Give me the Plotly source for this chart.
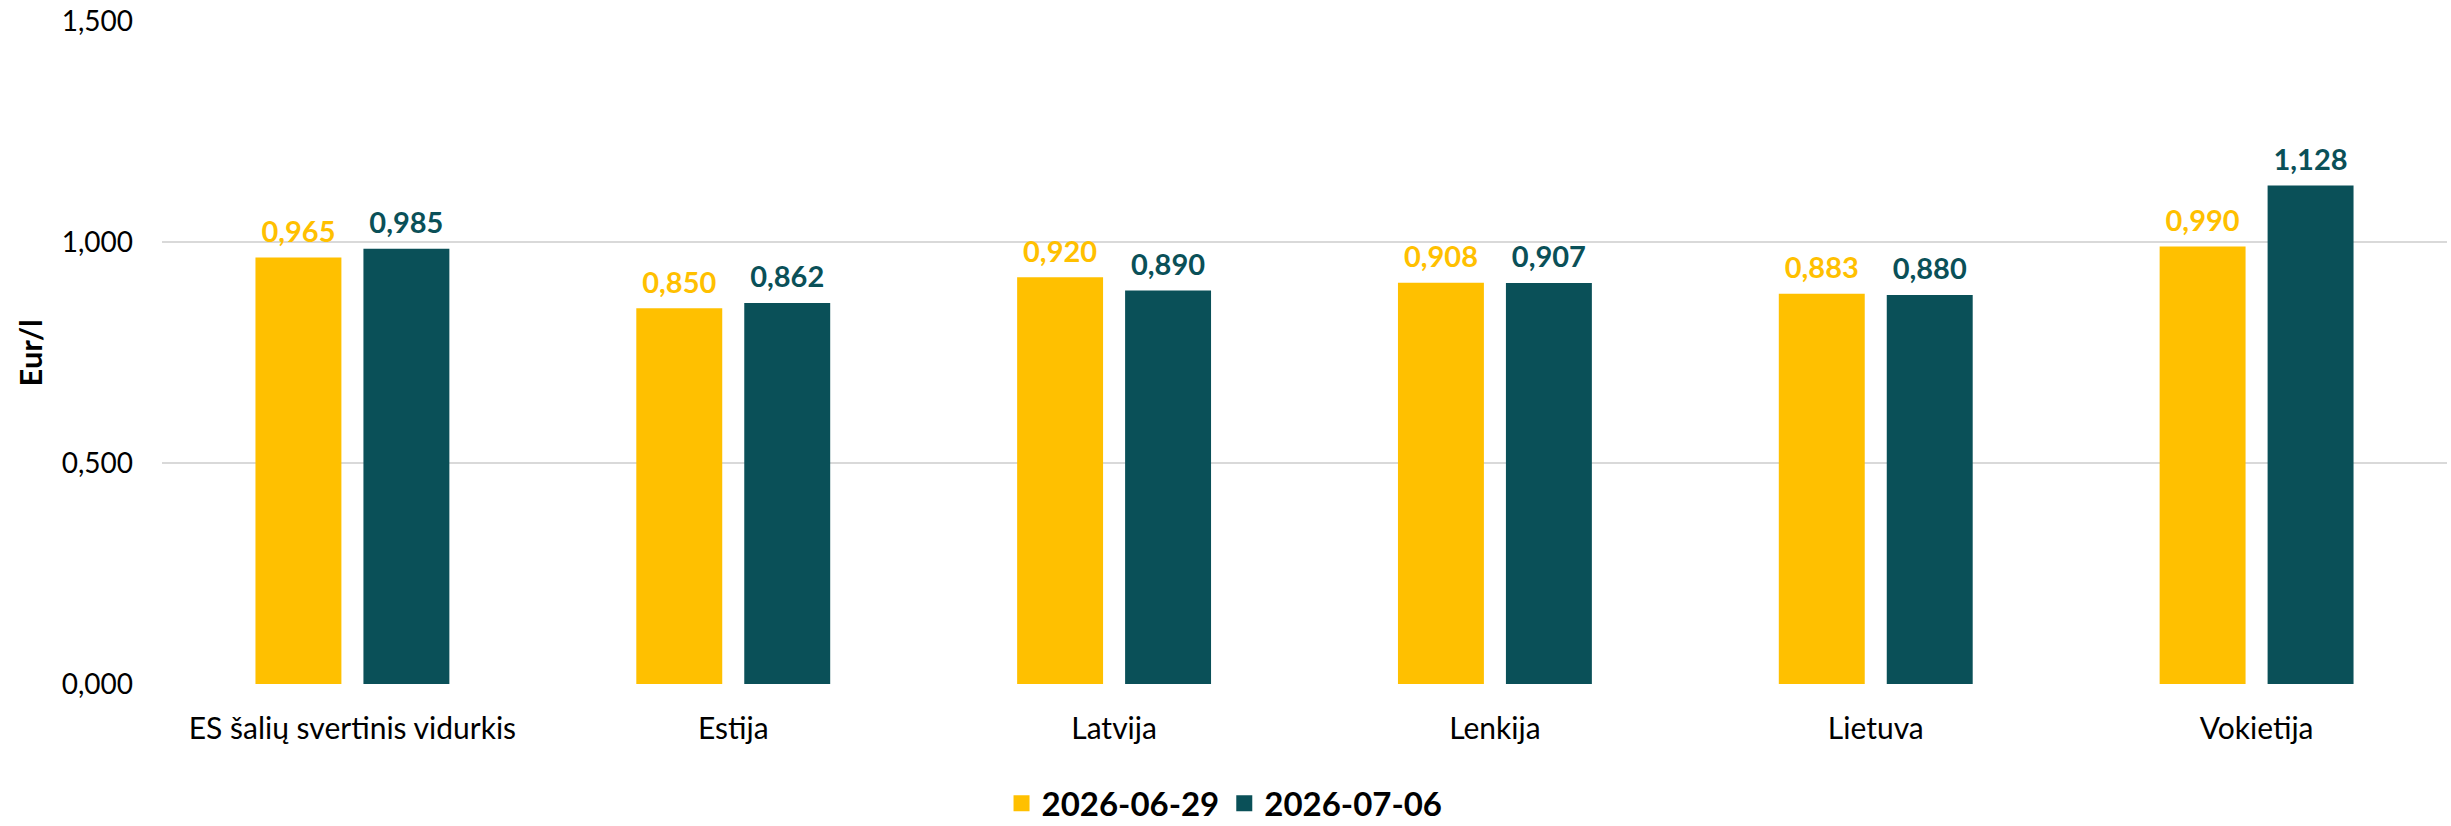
import plotly.graph_objects as go

categories = ["ES šalių svertinis vidurkis", "Estija", "Latvija", "Lenkija", "Lietuva", "Vokietija"]
series_names = ["2026-06-29", "2026-07-06"]
values_0629 = [0.965, 0.850, 0.920, 0.908, 0.883, 0.990]
values_0706 = [0.985, 0.862, 0.890, 0.907, 0.880, 1.128]
y_ticks = [0.0, 0.5, 1.0, 1.5]
y_title = "Eur/l"

YELLOW = "#FFC000"
TEAL = "#0A5058"
FONT = "Lato"

fig = go.Figure()
for grp, name, vals, col in [("a", series_names[0], values_0629, YELLOW), ("b", series_names[1], values_0706, TEAL)]:
    fig.add_trace(go.Bar(
        x=categories, y=vals, name=name, offsetgroup=grp,
        marker=dict(color=col, line=dict(width=0)),
        showlegend=False,
    ))
    # value labels, aligned with the bars of the same group
    fig.add_trace(go.Scatter(
        x=categories, y=vals, mode="text+markers", offsetgroup=grp,
        marker=dict(size=12, opacity=0, color=col),
        texttemplate="%{y:.3f}", textposition="top center", cliponaxis=False,
        textfont=dict(family=FONT, size=29, color=col, weight="bold"),
        showlegend=False, hoverinfo="skip",
    ))
    # legend entry
    fig.add_trace(go.Scatter(
        x=[None], y=[None], mode="markers", name=name, offsetgroup=grp,
        marker=dict(symbol="square", size=16, color=col),
        showlegend=True,
    ))

fig.update_layout(
    width=2451, height=826,
    margin=dict(l=162, r=4, t=21, b=142, autoexpand=False),
    paper_bgcolor="white", plot_bgcolor="white",
    separators=", ",
    barmode="group", bargap=0.433, bargroupgap=0.204,
    scattermode="group", scattergap=0.433,
    font=dict(family=FONT, size=28, color="#000000"),
    showlegend=True,
    legend=dict(orientation="h", x=0.465, xanchor="center", y=-0.18, yanchor="middle",
                font=dict(family=FONT, size=33, color="#000000", weight="bold"),
                tracegroupgap=0, itemwidth=30, bgcolor="rgba(0,0,0,0)"),
    annotations=[dict(
        text="<b>" + y_title + "</b>", xref="paper", yref="paper", x=-0.0578, y=0.5,
        xanchor="center", yanchor="middle", textangle=-90, showarrow=False,
        font=dict(family=FONT, size=31, color="#000000"),
    )],
)
fig.update_yaxes(
    range=[0, 1.5], tickvals=y_ticks, tickformat=".3f",
    showgrid=True, gridcolor="#D9D9D9", gridwidth=2,
    zeroline=False, showline=False, ticks="",
    ticklabelstandoff=28,
    tickfont=dict(family=FONT, size=28, color="#000000"),
    automargin=False,
)
fig.update_xaxes(
    showgrid=False, showline=False, ticks="", ticklabelstandoff=24,
    tickfont=dict(family=FONT, size=30, color="#000000"), automargin=False,
)

fig.write_html("out.html", config={"displayModeBar": False},
               post_script="document.body.style.margin='0';document.body.style.overflow='hidden';")
